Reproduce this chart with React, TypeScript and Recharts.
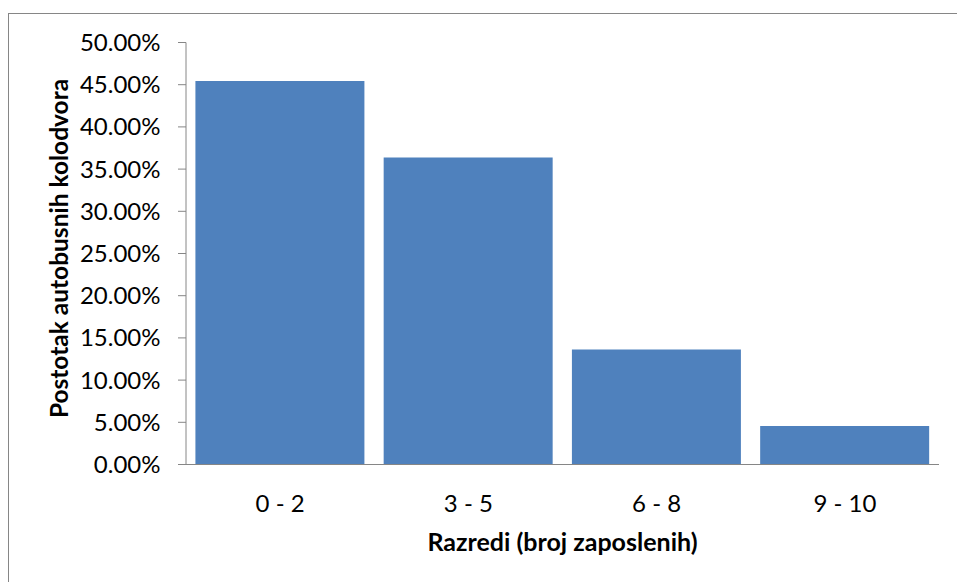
import React from "react";
import { BarChart, Bar, XAxis, YAxis } from "recharts";

const categories = ["0 - 2", "3 - 5", "6 - 8", "9 - 10"];
const percentages = [45.45, 36.36, 13.64, 4.55];
const yTicks = [0, 5, 10, 15, 20, 25, 30, 35, 40, 45, 50];
const xTitle = "Razredi (broj zaposlenih)";
const yTitle = "Postotak autobusnih kolodvora";

const data = categories.map((c, i) => ({ name: c, value: percentages[i] }));

const FONT = "Lato, 'Open Sans', sans-serif";
const AXIS = "#868686";

export default function App() {
  return (
    <div
      style={{
        position: "fixed",
        left: 8,
        top: 13,
        width: 960,
        height: 580,
        boxSizing: "border-box",
        borderLeft: "1.5px solid #868686",
        borderTop: "1.5px solid #868686",
        background: "#fff",
        fontFamily: FONT,
      }}
    >
      <BarChart
        width={947}
        height={567}
        data={data}
        margin={{ top: 28.5, right: 17, left: 0, bottom: 56.5 }}
        barCategoryGap="5%"
      >
        <XAxis
          dataKey="name"
          height={60}
          stroke={AXIS}
          tickLine={false}
          tickSize={0}
          tickMargin={30}
          tick={{ fill: "#000", fontSize: 24, fontFamily: FONT }}
          label={{
            value: xTitle,
            position: "center",
            dy: 48,
            fill: "#000",
            fontSize: 25,
            fontWeight: "bold",
            fontFamily: FONT,
          }}
        />
        <YAxis
          width={177}
          domain={[0, 50]}
          ticks={yTicks}
          interval={0}
          stroke={AXIS}
          tickSize={8}
          tickMargin={17.5}
          tickFormatter={(v: number) => `${v.toFixed(2)}%`}
          tick={{ fill: "#000", fontSize: 24, fontFamily: FONT }}
          label={{
            value: yTitle,
            angle: -90,
            position: "center",
            dx: -38,
            dy: -5,
            fill: "#000",
            fontSize: 24.5,
            fontWeight: "bold",
            fontFamily: FONT,
          }}
        />
        <Bar dataKey="value" fill="#4F81BD" isAnimationActive={false} />
      </BarChart>
    </div>
  );
}
